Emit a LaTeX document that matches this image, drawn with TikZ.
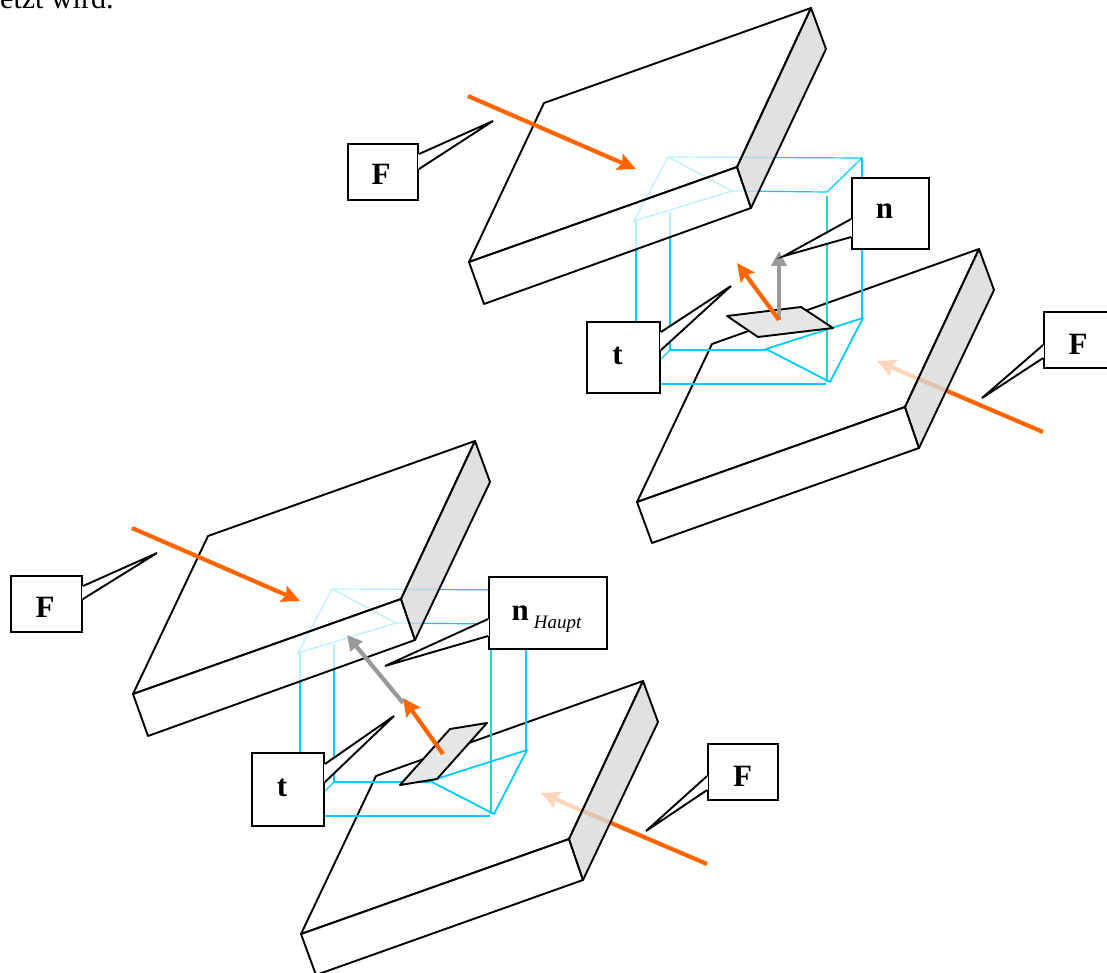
\documentclass[tikz,border=0pt]{standalone}
\usepackage{fontspec}
\setmainfont{Liberation Serif}
\usetikzlibrary{arrows.meta}
\definecolor{cubeblue}{HTML}{00CCFF}
\definecolor{cubeteal}{HTML}{33CCCC}
\definecolor{forceorange}{HTML}{FF6600}
\definecolor{normalgray}{HTML}{999999}
\definecolor{facegray}{HTML}{E6E6E6}
\definecolor{sidegray}{HTML}{D9D9D9}
\tikzset{
  plateface/.style={draw=black, line width=1.9pt, line join=round, fill=white, fill opacity=0.72},
  plateside/.style={draw=black, line width=1.9pt, line join=round, fill=sidegray, fill opacity=0.8},
  cubeline/.style={cubeblue, line width=1.2pt},
  cubecut/.style={cubeblue, line width=1.8pt, line join=round},
  cubeedge/.style={cubeteal, line width=2.2pt},
  force/.style={forceorange, line width=4.2pt, -{Stealth[length=18pt, width=17pt, inset=3pt]}},
  normal/.style={normalgray, line width=4.2pt, -{Stealth[length=15pt, width=15pt, inset=0pt]}},
  cutplane/.style={draw=black, line width=1.9pt, fill=facegray, line join=round},
  labelbox/.style={draw=black, line width=1.9pt, fill=white, inner sep=0pt, text depth=0pt, font=\fontsize{31}{31}\selectfont\bfseries},
  tailbase/.style={white, line width=2.6pt},
  tail/.style={draw=black, fill=white, line width=1.9pt}
}
\begin{document}
\begin{tikzpicture}[x=1pt, y=-1pt]
  \useasboundingbox (0,0) rectangle (1107,973);
  \node[anchor=base west, inner sep=0pt, font=\fontsize{30}{30}\selectfont] (heading) at (0,9) {etzt wird.};

  % Upper pair of plates
  % ---------------------
  \draw[force] (1043,432) -- (877,361);
  \filldraw[plateface] (712,344) -- (979,249) -- (905,407) -- (637,502) -- cycle;
  \filldraw[plateface] (637,502) -- (905,407) -- (919,448) -- (652,543) -- cycle;
  \filldraw[plateside] (979,249) -- (994,290) -- (919,448) -- (905,407) -- cycle;
  \draw[cubeline] (668,157) -- (862,158) -- (827,192) -- (732,191);
  \draw[cubeline] (636,221) -- (636,384) -- (826,384);
  \draw[cubeline] (670,212) -- (670,350) -- (766,350);
  \draw[cubeline] (670,350) -- (636,384);
  \draw[cubeline] (862,158) -- (862,318);
  \draw[cubeedge] (827,196) -- (827,382);
  \draw[cubeline] (668,157) -- (732,191) -- (634,221) -- cycle;
  \draw[cubecut] (766,349) -- (863,318) -- (830,382) -- cycle;
  \filldraw[plateface] (544,103) -- (811,8) -- (737,167) -- (469,262) -- cycle;
  \filldraw[plateface] (469,262) -- (737,167) -- (751,208) -- (484,304) -- cycle;
  \filldraw[plateside] (811,8) -- (826,49) -- (751,208) -- (737,167) -- cycle;
  \draw[force] (468,96) -- (636,169);
  \filldraw[cutplane] (727,316) -- (801,307) -- (833,328) -- (758,337) -- cycle;
  \draw[normal] (779,320) -- (779,251);
  \draw[force] (779,320) -- (737,263);

  % Lower pair of plates
  % ---------------------
  \draw[force] (707,864) -- (541,793);
  \filldraw[plateface] (376,776) -- (643,681) -- (569,839) -- (301,934) -- cycle;
  \filldraw[plateface] (301,934) -- (569,839) -- (583,880) -- (316,975) -- cycle;
  \filldraw[plateside] (643,681) -- (658,722) -- (583,880) -- (569,839) -- cycle;
  \draw[cubeline] (332,589) -- (526,590) -- (491,624) -- (396,623);
  \draw[cubeline] (300,653) -- (300,816) -- (490,816);
  \draw[cubeline] (334,644) -- (334,782) -- (430,782);
  \draw[cubeline] (334,782) -- (300,816);
  \draw[cubeline] (526,590) -- (526,750);
  \draw[cubeedge] (491,628) -- (491,814);
  \draw[cubeline] (332,589) -- (396,623) -- (298,653) -- cycle;
  \draw[cubecut] (430,781) -- (527,750) -- (494,814) -- cycle;
  \filldraw[plateface] (208,536) -- (475,441) -- (401,599) -- (133,694) -- cycle;
  \filldraw[plateface] (133,694) -- (401,599) -- (415,640) -- (148,736) -- cycle;
  \filldraw[plateside] (475,441) -- (490,482) -- (415,640) -- (401,599) -- cycle;
  \draw[force] (132,528) -- (300,601);
  \filldraw[cutplane] (400,785) -- (450,729) -- (487,723) -- (437,779) -- cycle;
  \draw[normal] (403,703) -- (347,635);
  \draw[force] (443,754) -- (403,698);

  % Labels of the upper pair
  % ---------------------
  \node[labelbox, text height=26pt, minimum width=70pt, minimum height=56pt] (forcea) at (383,172) {\hspace*{-4pt}F};
  \coordinate (tipa) at (493,121);
  \draw[tailbase] ([yshift=-11pt]forcea.north east) -- ([yshift=-26pt]forcea.north east);
  \filldraw[tail] ([yshift=-11pt]forcea.north east) -- (tipa) -- ([yshift=-26pt]forcea.north east);

  \node[labelbox, text height=11pt, minimum width=77pt, minimum height=71pt] (normala) at (890.5,213.5) {\hspace*{-12pt}n};
  \coordinate (tipb) at (784,256);
  \draw[tailbase] ([yshift=-42pt]normala.north west) -- ([yshift=-60pt]normala.north west);
  \filldraw[tail] ([yshift=-42pt]normala.north west) -- (tipb) -- ([yshift=-60pt]normala.north west);

  \node[labelbox, text height=13pt, minimum width=73pt, minimum height=71pt] (tanga) at (623.5,357.5) {\hspace*{-12pt}t};
  \coordinate (tipc) at (731,286);
  \draw[tailbase] ([yshift=-11pt]tanga.north east) -- ([yshift=-29pt]tanga.north east);
  \filldraw[tail] ([yshift=-11pt]tanga.north east) -- (tipc) -- ([yshift=-29pt]tanga.north east);

  \node[labelbox, text height=28pt, minimum width=70pt, minimum height=56pt] (forceb) at (1079,340) {\hspace*{-2pt}F};
  \coordinate (tipd) at (982,398);
  \draw[tailbase] ([yshift=-34pt]forceb.north west) -- ([yshift=-47pt]forceb.north west);
  \filldraw[tail] ([yshift=-34pt]forceb.north west) -- (tipd) -- ([yshift=-47pt]forceb.north west);

  % Labels of the lower pair
  % ---------------------
  \node[labelbox, text height=26pt, minimum width=71pt, minimum height=56pt] (forcec) at (46.5,604) {\hspace*{-3pt}F};
  \coordinate (tipe) at (157,553);
  \draw[tailbase] ([yshift=-11pt]forcec.north east) -- ([yshift=-24pt]forcec.north east);
  \filldraw[tail] ([yshift=-11pt]forcec.north east) -- (tipe) -- ([yshift=-24pt]forcec.north east);

  \node[labelbox, text height=14pt, minimum width=118pt, minimum height=72pt] (normalb) at (548,613) {\hspace*{-3pt}n\,\raisebox{-8pt}[0pt][0pt]{\fontsize{19}{19}\selectfont\mdseries\itshape Haupt}};
  \coordinate (tipf) at (385,666);
  \draw[tailbase] ([yshift=-43pt]normalb.north west) -- ([yshift=-60pt]normalb.north west);
  \filldraw[tail] ([yshift=-43pt]normalb.north west) -- (tipf) -- ([yshift=-60pt]normalb.north west);

  \node[labelbox, text height=14pt, minimum width=72pt, minimum height=73pt] (tangb) at (288,789.5) {\hspace*{-12pt}t};
  \coordinate (tipg) at (394,716);
  \draw[tailbase] ([yshift=-12pt]tangb.north east) -- ([yshift=-30pt]tangb.north east);
  \filldraw[tail] ([yshift=-12pt]tangb.north east) -- (tipg) -- ([yshift=-30pt]tangb.north east);

  \node[labelbox, text height=28pt, minimum width=70pt, minimum height=56pt] (forced) at (743,772) {\hspace*{-1pt}F};
  \coordinate (tiph) at (646,831);
  \draw[tailbase] ([yshift=-33pt]forced.north west) -- ([yshift=-47pt]forced.north west);
  \filldraw[tail] ([yshift=-33pt]forced.north west) -- (tiph) -- ([yshift=-47pt]forced.north west);
\end{tikzpicture}
\end{document}
